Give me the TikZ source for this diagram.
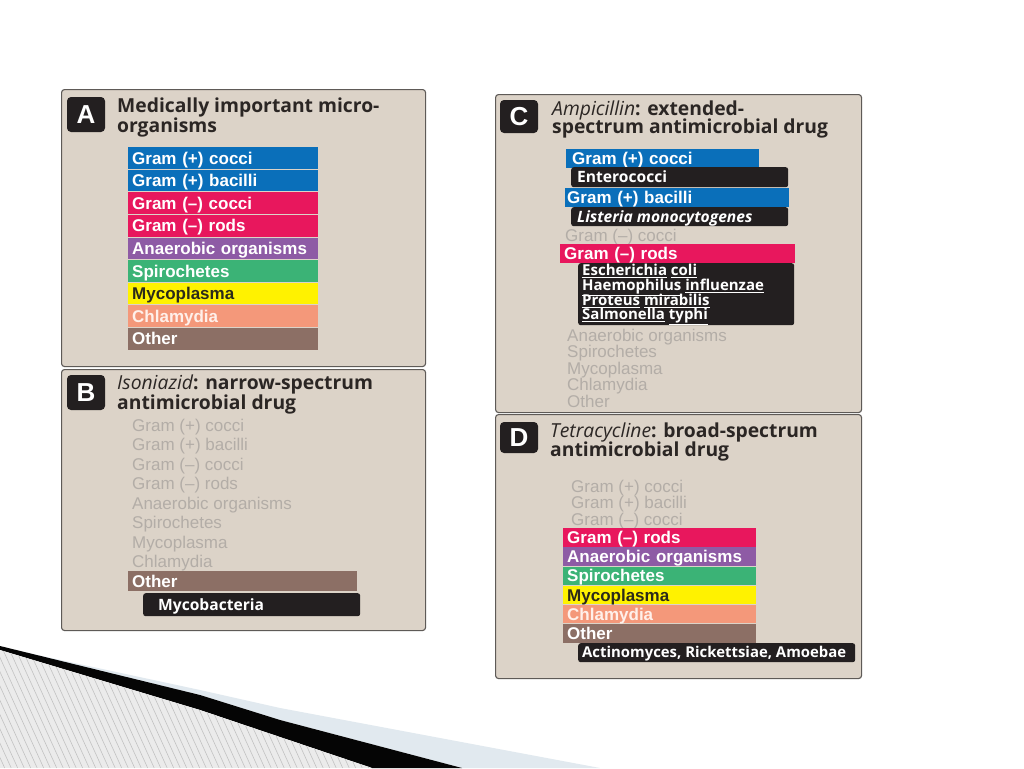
\documentclass[tikz,border=0pt]{standalone}
\usepackage{fontspec}
\setmainfont{Liberation Sans}
\newfontfamily\arialf{Liberation Sans}
\newfontfamily\myriadf{Open Sans}
\newcommand\mytitlefont{\myriadf\bfseries\fontsize{19.3}{21}\selectfont}
\newcommand\mybarfont{\arialf\bfseries\fontsize{17}{19}\selectfont}
\newcommand\mygrayfont{\arialf\fontsize{17}{19}\selectfont}
\newcommand\myblkfont{\myriadf\bfseries\fontsize{15.6}{17}\selectfont}
\newcommand\myblkmid{\myriadf\bfseries\fontsize{14.9}{17}\selectfont}
\newcommand\myblksmall{\myriadf\bfseries\fontsize{15}{16}\selectfont}
\newcommand\mybadgefont{\arialf\bfseries\fontsize{26}{28}\selectfont}
\definecolor{panelbg}{HTML}{DCD3C8}
\definecolor{panelline}{HTML}{5E5A57}
\definecolor{badgebg}{HTML}{231F20}
\definecolor{titlec}{HTML}{2B2624}
\definecolor{grayt}{HTML}{B3ADA7}
\definecolor{blueb}{HTML}{0A6FBA}
\definecolor{pinkb}{HTML}{E8175D}
\definecolor{purpleb}{HTML}{8E5BA5}
\definecolor{greenb}{HTML}{3BB376}
\definecolor{yellowb}{HTML}{FFF200}
\definecolor{salmonb}{HTML}{F4987A}
\definecolor{brownb}{HTML}{8C6F65}
\definecolor{blackbox}{HTML}{231F20}
\definecolor{mycotext}{HTML}{2B2A1A}
\definecolor{chlamtext}{HTML}{FFF0EA}
\definecolor{hatchbg}{HTML}{EBEBEB}
\definecolor{hatchln}{HTML}{C2C2C2}
\definecolor{lightband}{HTML}{E1E9EF}
\definecolor{darkband}{HTML}{050505}
\tikzset{
  panel/.style={draw=panelline, line width=1.1pt, fill=panelbg, rounded corners=3pt,
    anchor=north west, inner sep=0pt},
  badge/.style n args={2}{fill=badgebg, rounded corners=4pt, text=white, font=\mybadgefont,
    inner sep=0pt, minimum width=#1, minimum height=#2, text height=18.6pt, text depth=0pt},
  ttl/.style={anchor=base west, inner sep=0pt, text=titlec, font=\mytitlefont},
  bar/.style n args={3}{fill=#1, text width=#2, minimum height=#3, inner xsep=4pt,
    inner ysep=0pt, anchor=north west, align=left, font=\mybarfont, text=white,
    text height=12.2pt, text depth=0pt},
  graytxt/.style={anchor=west, inner sep=0pt, text=grayt, font=\mygrayfont,
    text height=12.2pt, text depth=0pt},
  blk/.style n args={2}{fill=blackbox, rounded corners=2.5pt, anchor=north west,
    inner sep=0pt, minimum width=#1, minimum height=#2},
  blabel/.style={anchor=west, inner sep=0pt, text=white, font=\myblkfont,
    text height=11.1pt, text depth=0pt},
  blabels/.style={anchor=west, inner sep=0pt, text=white, font=\myblksmall,
    text height=10.7pt, text depth=0pt},
}
\begin{document}
\begin{tikzpicture}[x=1pt,y=-1pt]
\useasboundingbox (0,0) rectangle (1024,768);
\fill[white] (0,0) rectangle (1024,768);

% ---- decoration bottom left ----
\fill[lightband] (0,647) -- (200,690) -- (280,708) -- (600,768) -- (462,768)
  -- (280,720) -- (200,695) -- cycle;
\fill[darkband] (0,646) -- (200,695) -- (280,720) -- (462,768) -- (372,768)
  -- (280,737) -- (200,710) -- (0,650) -- cycle;
\begin{scope}
  \clip (0,650) -- (200,710) -- (280,737) -- (372,768) -- (0,768) -- cycle;
  \fill[hatchbg] (0,640) rectangle (380,768);
  \foreach \k in {-60,-53.5,...,380} \draw[hatchln, line width=0.6pt] (\k,640) -- ++(58.2,128);
\end{scope}

% ---- Panel A ----
\node[panel, minimum width=364, minimum height=277] (pA) at (61,89) {};
\node[badge={38}{35}] (bA) at (86,114.5) {A};
\node[ttl] (tA1) at (117,112) {Medically important micro-};
\node[ttl] (tA2) at (117,132) {organisms};
\node[bar={blueb}{182}{21.6}] (a1) at (128,147.0) {Gram (+) cocci};
\node[bar={blueb}{182}{21.6}] (a2) at (128,169.6) {Gram (+) bacilli};
\node[bar={pinkb}{182}{21.6}] (a3) at (128,192.2) {Gram (–) cocci};
\node[bar={pinkb}{182}{21.6}] (a4) at (128,214.8) {Gram (–) rods};
\node[bar={purpleb}{182}{21.6}] (a5) at (128,237.4) {Anaerobic organisms};
\node[bar={greenb}{182}{21.6}] (a6) at (128,260.0) {Spirochetes};
\node[bar={yellowb}{182}{21.6}, text=mycotext] (a7) at (128,282.6) {Mycoplasma};
\node[bar={salmonb}{182}{21.6}, text=chlamtext] (a8) at (128,305.2) {Chlamydia};
\node[bar={brownb}{182}{21.6}] (a9) at (128,327.8) {Other};

% ---- Panel B ----
\node[panel, minimum width=364, minimum height=261] (pB) at (61,369) {};
\node[badge={38}{35}] (bB) at (86,392.5) {B};
\node[ttl] (tB1) at (117,389) {{\mdseries\itshape Isoniazid}: narrow-spectrum};
\node[ttl] (tB2) at (117,409) {antimicrobial drug};
\node[graytxt] (b1) at (132,425.5) {Gram (+) cocci};
\node[graytxt] (b2) at (132,444.5) {Gram (+) bacilli};
\node[graytxt] (b3) at (132,464) {Gram (–) cocci};
\node[graytxt] (b4) at (132,483.5) {Gram (–) rods};
\node[graytxt] (b5) at (132,503) {Anaerobic organisms};
\node[graytxt] (b6) at (132,522) {Spirochetes};
\node[graytxt] (b7) at (132,542) {Mycoplasma};
\node[graytxt] (b8) at (132,561) {Chlamydia};
\node[bar={brownb}{221}{20}] (b9) at (128,571) {Other};
\node[blk={217}{23}] (bMbox) at (143,593) {};
\node[blabel] (bM) at (158,604.5) {Mycobacteria};

% ---- Panel C ----
\node[panel, minimum width=366, minimum height=318] (pC) at (495,94) {};
\node[badge={38}{33}] (bC) at (519,116.5) {C};
\node[ttl] (tC1) at (552,115) {{\mdseries\itshape Ampicillin}: extended-};
\node[ttl] (tC2) at (552,133.5) {spectrum antimicrobial drug};
\node[bar={blueb}{181}{18.5}, inner xsep=6pt] (c1) at (566,149) {Gram (+) cocci};
\node[blk={217}{20}] (cEbox) at (571,167) {};
\node[blabel] (cE) at (577,177) {Enterococci};
\node[bar={blueb}{220}{18.5}, inner xsep=2pt] (c2) at (565,188) {Gram (+) bacilli};
\node[blk={217}{19}] (cLbox) at (571,207) {};
\node[blabel] (cL) at (577,216.5) {\itshape Listeria monocytogenes};
\node[graytxt] (c3) at (565,235) {Gram (–) cocci};
\node[bar={pinkb}{227}{19}] (c4) at (560,244) {Gram (–) rods};
\node[blk={216}{62}] (cGbox) at (578,263) {};
\node[blabels] (cG1) at (582,270) {\underline{Escherichia} \underline{coli}};
\node[blabels] (cG2) at (582,285) {\underline{Haemophilus} \underline{influenzae}};
\node[blabels] (cG3) at (582,300) {\underline{Proteus} \underline{mirabilis}};
\node[blabels] (cG4) at (582,314) {\underline{Salmonella} \underline{typhi}};
\node[graytxt] (c5) at (567,335) {Anaerobic organisms};
\node[graytxt] (c6) at (567,351) {Spirochetes};
\node[graytxt] (c7) at (567,368) {Mycoplasma};
\node[graytxt] (c8) at (567,384) {Chlamydia};
\node[graytxt] (c9) at (567,401) {Other};

% ---- Panel D ----
\node[panel, minimum width=366, minimum height=264] (pD) at (495,414) {};
\node[badge={38}{31}] (bD) at (519,437.5) {D};
\node[ttl] (tD1) at (550,437) {{\mdseries\itshape Tetracycline}: broad-spectrum};
\node[ttl] (tD2) at (550,456) {antimicrobial drug};
\node[graytxt] (d1) at (571,486) {Gram (+) cocci};
\node[graytxt] (d2) at (571,502.5) {Gram (+) bacilli};
\node[graytxt] (d3) at (571,519) {Gram (–) cocci};
\node[bar={pinkb}{185}{18.4}] (d4) at (563,528.0) {Gram (–) rods};
\node[bar={purpleb}{185}{18.4}] (d5) at (563,547.2) {Anaerobic organisms};
\node[bar={greenb}{185}{18.4}] (d6) at (563,566.4) {Spirochetes};
\node[bar={yellowb}{185}{18.4}, text=mycotext] (d7) at (563,585.6) {Mycoplasma};
\node[bar={salmonb}{185}{18.4}, text=chlamtext] (d8) at (563,604.8) {Chlamydia};
\node[bar={brownb}{185}{18.4}] (d9) at (563,624.0) {Other};
\node[blk={277}{19}] (dAbox) at (578,643) {};
\node[blabel, font=\myblkmid, text height=10.6pt] (dA) at (582,652.5) {Actinomyces, Rickettsiae, Amoebae};
\end{tikzpicture}
\end{document}
